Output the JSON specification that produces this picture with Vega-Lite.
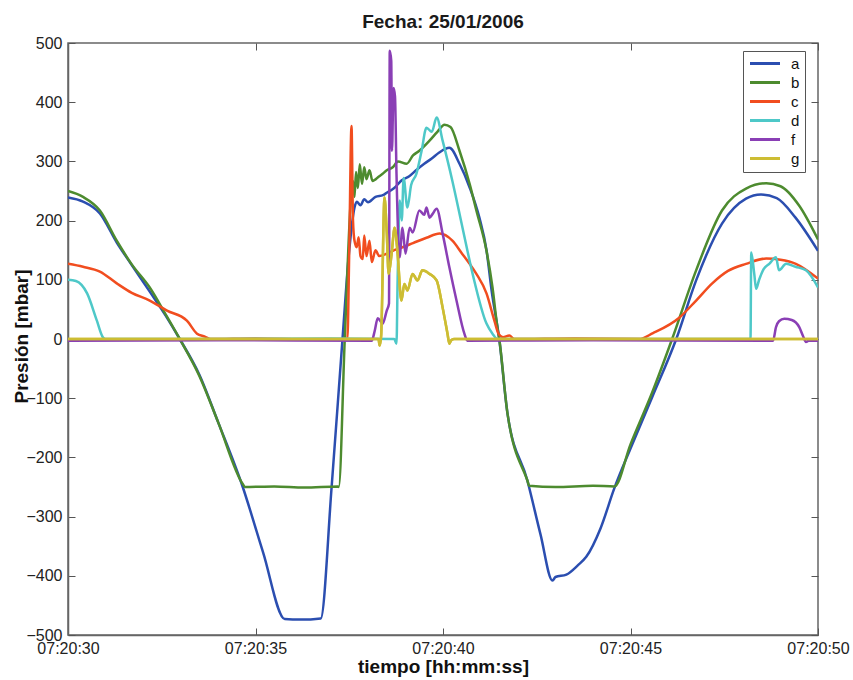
{
 "$schema": "https://vega.github.io/schema/vega-lite/v6.json",
 "width": 750, "height": 592,
 "autosize": {"type": "none"},
 "padding": {"left": 68, "top": 43, "right": 35, "bottom": 45},
 "background": "white",
 "title": {"text": "Fecha: 25/01/2006", "fontSize": 19, "fontWeight": "bold", "font": "Liberation Sans", "color": "#1a1a1a", "offset": 3},
 "config": {"font": "Liberation Sans", "view": {"stroke": "#666", "strokeWidth": 1.5}},
 "datasets": {
  "pts": [
   {"s":"a","t":30,"v":239},{"s":"a","t":30.4,"v":232},{"s":"a","t":30.85,"v":212},{"s":"a","t":31.3,"v":163},{"s":"a","t":31.7,"v":125},{"s":"a","t":32.18,"v":80},{"s":"a","t":32.6,"v":40},{"s":"a","t":32.98,"v":0},{"s":"a","t":33.5,"v":-60},{"s":"a","t":34.0,"v":-140},{"s":"a","t":34.66,"v":-250},{"s":"a","t":35.2,"v":-360},{"s":"a","t":35.78,"v":-473},{"s":"a","t":36.2,"v":-474},{"s":"a","t":36.74,"v":-472},{"s":"a","t":37.03,"v":-250},{"s":"a","t":37.32,"v":0},{"s":"a","t":37.5,"v":150},{"s":"a","t":37.64,"v":222},{"s":"a","t":37.7,"v":232},{"s":"a","t":37.8,"v":226},{"s":"a","t":37.9,"v":236},{"s":"a","t":38.0,"v":231},{"s":"a","t":38.2,"v":240},{"s":"a","t":38.4,"v":243},{"s":"a","t":38.5,"v":247},{"s":"a","t":38.7,"v":255},{"s":"a","t":38.9,"v":268},{"s":"a","t":39.1,"v":275},{"s":"a","t":39.3,"v":286},{"s":"a","t":39.5,"v":296},{"s":"a","t":39.7,"v":305},{"s":"a","t":39.9,"v":315},{"s":"a","t":40.17,"v":323},{"s":"a","t":40.44,"v":296},{"s":"a","t":40.71,"v":256},{"s":"a","t":40.97,"v":205},{"s":"a","t":41.16,"v":150},{"s":"a","t":41.3,"v":80},{"s":"a","t":41.5,"v":0},{"s":"a","t":41.72,"v":-126},{"s":"a","t":42.25,"v":-239},{"s":"a","t":42.6,"v":-330},{"s":"a","t":42.92,"v":-408},{"s":"a","t":43.0,"v":-402},{"s":"a","t":43.29,"v":-398},{"s":"a","t":43.6,"v":-382},{"s":"a","t":43.82,"v":-368},{"s":"a","t":44.2,"v":-320},{"s":"a","t":44.57,"v":-252},{"s":"a","t":45.0,"v":-185},{"s":"a","t":45.58,"v":-98},{"s":"a","t":46.22,"v":0},{"s":"a","t":46.75,"v":99},{"s":"a","t":47.44,"v":195},{"s":"a","t":48.08,"v":237},{"s":"a","t":48.48,"v":244},{"s":"a","t":48.9,"v":238},{"s":"a","t":49.4,"v":205},{"s":"a","t":50,"v":149},
   {"s":"b","t":30,"v":250},{"s":"b","t":30.4,"v":240},{"s":"b","t":30.85,"v":217},{"s":"b","t":31.3,"v":166},{"s":"b","t":31.7,"v":126},{"s":"b","t":32.18,"v":87},{"s":"b","t":32.6,"v":42},{"s":"b","t":32.98,"v":0},{"s":"b","t":33.5,"v":-62},{"s":"b","t":34.0,"v":-140},{"s":"b","t":34.66,"v":-245},{"s":"b","t":34.72,"v":-250},{"s":"b","t":35.5,"v":-249},{"s":"b","t":36.3,"v":-251},{"s":"b","t":37.2,"v":-249},{"s":"b","t":37.22,"v":-250},{"s":"b","t":37.38,"v":0},{"s":"b","t":37.56,"v":250},{"s":"b","t":37.6,"v":267},{"s":"b","t":37.64,"v":240},{"s":"b","t":37.68,"v":282},{"s":"b","t":37.73,"v":255},{"s":"b","t":37.78,"v":295},{"s":"b","t":37.84,"v":262},{"s":"b","t":37.9,"v":290},{"s":"b","t":37.96,"v":270},{"s":"b","t":38.04,"v":285},{"s":"b","t":38.12,"v":267},{"s":"b","t":38.3,"v":275},{"s":"b","t":38.39,"v":279},{"s":"b","t":38.5,"v":285},{"s":"b","t":38.66,"v":290},{"s":"b","t":38.8,"v":300},{"s":"b","t":39.03,"v":296},{"s":"b","t":39.2,"v":310},{"s":"b","t":39.37,"v":318},{"s":"b","t":39.64,"v":335},{"s":"b","t":39.85,"v":350},{"s":"b","t":40.04,"v":362},{"s":"b","t":40.2,"v":358},{"s":"b","t":40.44,"v":318},{"s":"b","t":40.71,"v":262},{"s":"b","t":40.89,"v":217},{"s":"b","t":41.16,"v":149},{"s":"b","t":41.32,"v":87},{"s":"b","t":41.45,"v":20},{"s":"b","t":41.5,"v":0},{"s":"b","t":41.72,"v":-126},{"s":"b","t":42.25,"v":-239},{"s":"b","t":42.3,"v":-248},{"s":"b","t":43.0,"v":-250},{"s":"b","t":44.0,"v":-248},{"s":"b","t":44.57,"v":-249},{"s":"b","t":45.0,"v":-178},{"s":"b","t":45.58,"v":-90},{"s":"b","t":46.11,"v":0},{"s":"b","t":46.75,"v":116},{"s":"b","t":47.44,"v":217},{"s":"b","t":48.08,"v":254},{"s":"b","t":48.62,"v":263},{"s":"b","t":49.0,"v":258},{"s":"b","t":49.5,"v":225},{"s":"b","t":50,"v":168},
   {"s":"c","t":30,"v":127},{"s":"c","t":30.4,"v":122},{"s":"c","t":30.85,"v":114},{"s":"c","t":31.3,"v":94},{"s":"c","t":31.7,"v":78},{"s":"c","t":32.18,"v":65},{"s":"c","t":32.64,"v":48},{"s":"c","t":33.17,"v":31},{"s":"c","t":33.44,"v":9},{"s":"c","t":33.65,"v":4},{"s":"c","t":33.8,"v":0},{"s":"c","t":35,"v":1},{"s":"c","t":36.5,"v":-1},{"s":"c","t":37.45,"v":0},{"s":"c","t":37.5,"v":150},{"s":"c","t":37.56,"v":360},{"s":"c","t":37.6,"v":200},{"s":"c","t":37.64,"v":166},{"s":"c","t":37.7,"v":155},{"s":"c","t":37.75,"v":172},{"s":"c","t":37.8,"v":140},{"s":"c","t":37.86,"v":135},{"s":"c","t":37.9,"v":175},{"s":"c","t":37.96,"v":140},{"s":"c","t":38.04,"v":166},{"s":"c","t":38.1,"v":130},{"s":"c","t":38.2,"v":150},{"s":"c","t":38.3,"v":140},{"s":"c","t":38.5,"v":144},{"s":"c","t":38.7,"v":150},{"s":"c","t":38.92,"v":155},{"s":"c","t":39.2,"v":162},{"s":"c","t":39.56,"v":171},{"s":"c","t":39.91,"v":178},{"s":"c","t":40.25,"v":166},{"s":"c","t":40.5,"v":145},{"s":"c","t":40.71,"v":127},{"s":"c","t":40.89,"v":110},{"s":"c","t":41.16,"v":77},{"s":"c","t":41.37,"v":31},{"s":"c","t":41.48,"v":9},{"s":"c","t":41.6,"v":3},{"s":"c","t":41.77,"v":6},{"s":"c","t":41.9,"v":0},{"s":"c","t":43.5,"v":1},{"s":"c","t":45.23,"v":0},{"s":"c","t":45.6,"v":10},{"s":"c","t":46.3,"v":36},{"s":"c","t":46.75,"v":65},{"s":"c","t":47.18,"v":94},{"s":"c","t":47.6,"v":115},{"s":"c","t":48.08,"v":127},{"s":"c","t":48.62,"v":136},{"s":"c","t":49.0,"v":134},{"s":"c","t":49.41,"v":127},{"s":"c","t":50,"v":102},
   {"s":"d","t":30,"v":100},{"s":"d","t":30.21,"v":98},{"s":"d","t":30.51,"v":77},{"s":"d","t":30.77,"v":31},{"s":"d","t":30.93,"v":3},{"s":"d","t":31.0,"v":0},{"s":"d","t":34,"v":0},{"s":"d","t":37,"v":1},{"s":"d","t":38.7,"v":0},{"s":"d","t":38.76,"v":-8},{"s":"d","t":38.79,"v":100},{"s":"d","t":38.85,"v":234},{"s":"d","t":38.9,"v":200},{"s":"d","t":38.95,"v":272},{"s":"d","t":39.05,"v":222},{"s":"d","t":39.15,"v":260},{"s":"d","t":39.29,"v":279},{"s":"d","t":39.43,"v":318},{"s":"d","t":39.56,"v":357},{"s":"d","t":39.7,"v":350},{"s":"d","t":39.83,"v":374},{"s":"d","t":39.99,"v":335},{"s":"d","t":40.25,"v":267},{"s":"d","t":40.52,"v":188},{"s":"d","t":40.79,"v":110},{"s":"d","t":41.16,"v":26},{"s":"d","t":41.32,"v":9},{"s":"d","t":41.45,"v":0},{"s":"d","t":45,"v":0},{"s":"d","t":48.2,"v":0},{"s":"d","t":48.22,"v":146},{"s":"d","t":48.3,"v":110},{"s":"d","t":48.35,"v":85},{"s":"d","t":48.43,"v":100},{"s":"d","t":48.55,"v":118},{"s":"d","t":48.7,"v":127},{"s":"d","t":48.88,"v":138},{"s":"d","t":48.96,"v":116},{"s":"d","t":49.15,"v":127},{"s":"d","t":49.4,"v":122},{"s":"d","t":49.68,"v":116},{"s":"d","t":50,"v":87},
   {"s":"f","t":30,"v":-3},{"s":"f","t":34,"v":-2},{"s":"f","t":38.1,"v":-3},{"s":"f","t":38.18,"v":14},{"s":"f","t":38.26,"v":35},{"s":"f","t":38.39,"v":26},{"s":"f","t":38.5,"v":48},{"s":"f","t":38.56,"v":60},{"s":"f","t":38.58,"v":487},{"s":"f","t":38.62,"v":470},{"s":"f","t":38.64,"v":318},{"s":"f","t":38.68,"v":424},{"s":"f","t":38.72,"v":410},{"s":"f","t":38.76,"v":279},{"s":"f","t":38.84,"v":138},{"s":"f","t":38.92,"v":188},{"s":"f","t":39.0,"v":144},{"s":"f","t":39.11,"v":188},{"s":"f","t":39.19,"v":180},{"s":"f","t":39.37,"v":217},{"s":"f","t":39.5,"v":210},{"s":"f","t":39.56,"v":222},{"s":"f","t":39.64,"v":205},{"s":"f","t":39.72,"v":211},{"s":"f","t":39.83,"v":220},{"s":"f","t":39.99,"v":178},{"s":"f","t":40.17,"v":121},{"s":"f","t":40.36,"v":65},{"s":"f","t":40.57,"v":9},{"s":"f","t":40.65,"v":-3},{"s":"f","t":44,"v":-2},{"s":"f","t":48.8,"v":-3},{"s":"f","t":48.88,"v":20},{"s":"f","t":48.96,"v":30},{"s":"f","t":49.1,"v":34},{"s":"f","t":49.3,"v":32},{"s":"f","t":49.5,"v":20},{"s":"f","t":49.6,"v":5},{"s":"f","t":49.68,"v":-5},{"s":"f","t":49.75,"v":-3},{"s":"f","t":50,"v":-3},
   {"s":"g","t":30,"v":0},{"s":"g","t":34,"v":0},{"s":"g","t":38.28,"v":0},{"s":"g","t":38.31,"v":-11},{"s":"g","t":38.35,"v":5},{"s":"g","t":38.44,"v":239},{"s":"g","t":38.5,"v":180},{"s":"g","t":38.55,"v":110},{"s":"g","t":38.63,"v":144},{"s":"g","t":38.71,"v":188},{"s":"g","t":38.79,"v":144},{"s":"g","t":38.89,"v":65},{"s":"g","t":38.97,"v":93},{"s":"g","t":39.05,"v":82},{"s":"g","t":39.19,"v":110},{"s":"g","t":39.32,"v":99},{"s":"g","t":39.45,"v":116},{"s":"g","t":39.64,"v":110},{"s":"g","t":39.83,"v":99},{"s":"g","t":39.99,"v":53},{"s":"g","t":40.12,"v":9},{"s":"g","t":40.17,"v":-8},{"s":"g","t":40.22,"v":-2},{"s":"g","t":40.3,"v":0},{"s":"g","t":45,"v":0},{"s":"g","t":50,"v":0}
  ]
 },
 "data": {"name": "pts"},
 "layer": [
  {
   "mark": {"type": "line", "strokeWidth": 2.5, "clip": true, "interpolate": "monotone"},
   "encoding": {
    "x": {"field": "t", "type": "quantitative", "scale": {"domain": [30, 50], "nice": false},
      "axis": {"values": [30, 35, 40, 45, 50], "labelExpr": "'07:20:' + datum.value", "grid": false, "tickSize": -7, "tickColor": "#555", "domainColor": "#666", "domainWidth": 1.5, "labelFontSize": 16, "labelColor": "#222", "labelPadding": 12, "labelFlush": false,
        "title": "tiempo [hh:mm:ss]", "titleFontSize": 19, "titleFontWeight": "bold", "titleColor": "#111", "titleBaseline": "alphabetic", "titleY": 37}},
    "y": {"field": "v", "type": "quantitative", "scale": {"domain": [-500, 500], "nice": false},
      "axis": {"values": [-500, -400, -300, -200, -100, 0, 100, 200, 300, 400, 500], "grid": false, "tickSize": -7, "tickColor": "#555", "domainColor": "#666", "domainWidth": 1.5, "labelFontSize": 16, "labelColor": "#222", "labelPadding": 13,
        "title": "Presión [mbar]", "titleFontSize": 19, "titleFontWeight": "bold", "titleColor": "#111", "titleBaseline": "alphabetic", "titleX": -41, "titleY": 293}},
    "color": {"field": "s", "type": "nominal",
      "scale": {"domain": ["a", "b", "c", "d", "f", "g"], "range": ["#2b4eb0", "#4d8b2f", "#f14d1f", "#4ec8c8", "#8a3fb5", "#cdbd33"]},
      "legend": {"orient": "none", "legendX": 675, "legendY": 8, "title": null, "strokeColor": "#555", "fillColor": "white", "padding": 5, "symbolType": "M-1.1,0H4.9", "symbolSize": 100, "symbolStrokeWidth": 3, "labelFontSize": 15, "labelColor": "#111", "labelOffset": 28, "rowPadding": 3}}
   }
  },
  {
   "transform": [{"filter": "datum.s == 'g'"}],
   "mark": {"type": "line", "strokeWidth": 2.5, "clip": true, "interpolate": "monotone", "color": "#cdbd33"},
   "encoding": {
    "x": {"field": "t", "type": "quantitative", "scale": {"domain": [30, 50], "nice": false},
      "axis": {"orient": "top", "values": [30, 35, 40, 45, 50], "labels": false, "title": null, "domain": false, "grid": false, "tickSize": -7, "tickColor": "#555"}},
    "y": {"field": "v", "type": "quantitative", "scale": {"domain": [-500, 500], "nice": false},
      "axis": {"orient": "right", "values": [-500, -400, -300, -200, -100, 0, 100, 200, 300, 400, 500], "labels": false, "title": null, "domain": false, "grid": false, "tickSize": -7, "tickColor": "#555"}}
   }
  }
 ],
 "resolve": {"axis": {"x": "independent", "y": "independent"}}
}
